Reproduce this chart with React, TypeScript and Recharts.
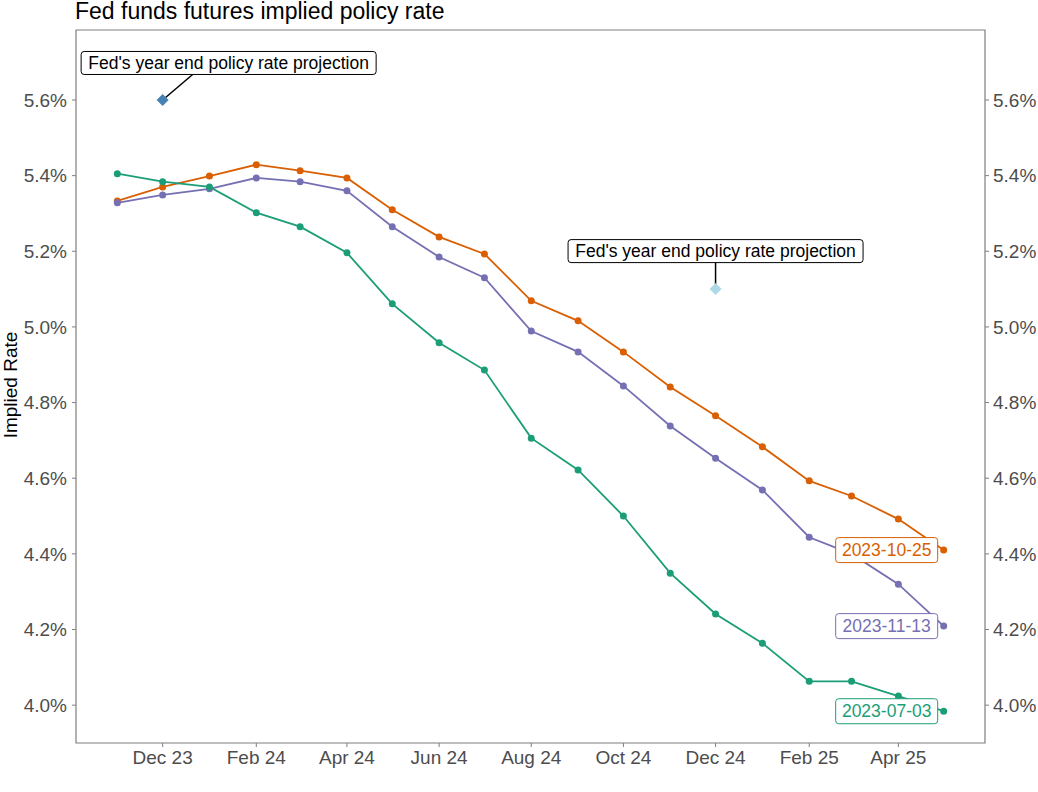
import React from "react";
import {
  LineChart,
  Line,
  XAxis,
  YAxis,
  ReferenceDot,
  ReferenceArea,
} from "recharts";

const MONTHS = [
  "2023-11-01", "2023-12-01", "2024-01-01", "2024-02-01", "2024-03-01",
  "2024-04-01", "2024-05-01", "2024-06-01", "2024-07-01", "2024-08-01",
  "2024-09-01", "2024-10-01", "2024-11-01", "2024-12-01", "2025-01-01",
  "2025-02-01", "2025-03-01", "2025-04-01", "2025-05-01",
];

const RATE_2023_10_25 = [
  5.333, 5.37, 5.399, 5.429, 5.413, 5.394, 5.31, 5.238, 5.193, 5.069,
  5.016, 4.934, 4.841, 4.765, 4.683, 4.593, 4.553, 4.492, 4.41,
];
const RATE_2023_11_13 = [
  5.328, 5.349, 5.365, 5.394, 5.384, 5.36, 5.265, 5.185, 5.13, 4.989,
  4.934, 4.844, 4.738, 4.653, 4.569, 4.444, 4.4, 4.32, 4.209,
];
const RATE_2023_07_03 = [
  5.405, 5.384, 5.37, 5.302, 5.265, 5.196, 5.061, 4.958, 4.886, 4.706,
  4.622, 4.5, 4.349, 4.241, 4.164, 4.063, 4.063, 4.024, 3.984,
];

const SERIES = [
  { key: "d1025", name: "2023-10-25", color: "#D95F02", values: RATE_2023_10_25 },
  { key: "d1113", name: "2023-11-13", color: "#7570B3", values: RATE_2023_11_13 },
  { key: "d0703", name: "2023-07-03", color: "#1B9E77", values: RATE_2023_07_03 },
];

const X_TICKS = [
  "2023-12-01", "2024-02-01", "2024-04-01", "2024-06-01", "2024-08-01",
  "2024-10-01", "2024-12-01", "2025-02-01", "2025-04-01",
];
const Y_TICKS = [4.0, 4.2, 4.4, 4.6, 4.8, 5.0, 5.2, 5.4, 5.6];

const PROJECTIONS = [
  { date: "2023-12-01", rate: 5.6, color: "#4682B4", dx: 66, dy: -37 },
  { date: "2024-12-01", rate: 5.1, color: "#ADD8E6", dx: 0, dy: -38 },
];
const PROJECTION_LABEL = "Fed's year end policy rate projection";

const MONTH_NAMES = ["Jan", "Feb", "Mar", "Apr", "May", "Jun", "Jul", "Aug", "Sep", "Oct", "Nov", "Dec"];

function toTs(s: string): number {
  return new Date(s + "T00:00:00Z").getTime();
}

function fmtMonth(ts: number): string {
  const d = new Date(ts);
  return `${MONTH_NAMES[d.getUTCMonth()]} ${String(d.getUTCFullYear()).slice(2)}`;
}

const data = MONTHS.map((m, i) => {
  const row: Record<string, number> = { t: toTs(m) };
  for (const s of SERIES) row[s.key] = s.values[i];
  return row;
});

const tMin = toTs(MONTHS[0]);
const tMax = toTs(MONTHS[MONTHS.length - 1]);
const pad = (tMax - tMin) * 0.05;
const X_DOMAIN = [tMin - pad, tMax + pad];
const Y_DOMAIN = [3.9, 5.785];

const FONT = "'Liberation Sans', Arial, sans-serif";
const TICK_STYLE = { fill: "#4D4D4D", fontSize: 19, fontFamily: FONT };

function EndLabel(props: any, color: string, text: string) {
  const { x, y, index } = props;
  if (index !== MONTHS.length - 1) return null;
  const w = 102;
  const h = 25;
  return (
    <g>
      <rect x={x - 6 - w} y={y - h / 2} width={w} height={h} rx={3} fill="#fff" stroke={color} strokeWidth={1} />
      <text x={x - 6 - w / 2} y={y + 6} textAnchor="middle" fill={color} fontSize={17.5} fontFamily={FONT}>
        {text}
      </text>
    </g>
  );
}

function ProjectionShape(props: any, p: { color: string; dx: number; dy: number }) {
  const { cx, cy } = props;
  const bw = 295;
  const bh = 23;
  const bx = cx + p.dx;
  const by = cy + p.dy;
  const s = 6;
  return (
    <g>
      <line x1={cx} y1={cy} x2={bx + (p.dx ? 30 - p.dx : 0)} y2={by + bh / 2} stroke="#000" strokeWidth={1.5} />
      <polygon
        points={`${cx},${cy - s} ${cx + s},${cy} ${cx},${cy + s} ${cx - s},${cy}`}
        fill={p.color}
      />
      <rect x={bx - bw / 2} y={by - bh / 2} width={bw} height={bh} rx={3} fill="#fff" stroke="#000" strokeWidth={1} />
      <text x={bx} y={by + 6} textAnchor="middle" fill="#000" fontSize={17.5} fontFamily={FONT}>
        {PROJECTION_LABEL}
      </text>
    </g>
  );
}

export default function App() {
  return (
    <div style={{ position: "absolute", left: 0, top: 0, width: 1038, height: 792, background: "#fff", fontFamily: FONT }}>
      <div style={{ position: "absolute", left: 75, top: 0, fontSize: 23, lineHeight: "23px", color: "#000", whiteSpace: "nowrap" }}>
        Fed funds futures implied policy rate
      </div>
      <div
        style={{
          position: "absolute",
          left: 11,
          top: 385,
          fontSize: 19,
          color: "#000",
          whiteSpace: "nowrap",
          transform: "translate(-50%, -50%) rotate(-90deg)",
        }}
      >
        Implied Rate
      </div>
      <div style={{ position: "absolute", left: 0, top: 0 }}>
        <LineChart width={1038} height={792} data={data} margin={{ top: 30, right: 0, bottom: 0, left: 0 }}>
          <XAxis
            dataKey="t"
            type="number"
            domain={X_DOMAIN}
            ticks={X_TICKS.map(toTs)}
            tickFormatter={fmtMonth}
            allowDataOverflow
            height={49}
            axisLine={false}
            tickLine={{ stroke: "#7f7f7f" }}
            tickSize={4}
            tickMargin={4}
            tick={TICK_STYLE}
          />
          <YAxis
            yAxisId="left"
            type="number"
            domain={Y_DOMAIN}
            ticks={Y_TICKS}
            allowDataOverflow
            width={76}
            axisLine={false}
            tickLine={{ stroke: "#7f7f7f" }}
            tickSize={4}
            tickMargin={5}
            tickFormatter={(v: number) => `${v.toFixed(1)}%`}
            tick={TICK_STYLE}
          />
          <YAxis
            yAxisId="right"
            orientation="right"
            type="number"
            domain={Y_DOMAIN}
            ticks={Y_TICKS}
            allowDataOverflow
            width={53}
            axisLine={false}
            tickLine={{ stroke: "#7f7f7f" }}
            tickSize={4}
            tickMargin={4}
            tickFormatter={(v: number) => `${v.toFixed(1)}%`}
            tick={TICK_STYLE}
          />
          <ReferenceArea
            yAxisId="left"
            x1={X_DOMAIN[0]}
            x2={X_DOMAIN[1]}
            y1={Y_DOMAIN[0]}
            y2={Y_DOMAIN[1]}
            fill="none"
            stroke="#7f7f7f"
            strokeWidth={1.2}
            ifOverflow="extendDomain"
          />
          {SERIES.map((s) => (
            <Line
              key={s.key}
              yAxisId="left"
              dataKey={s.key}
              name={s.name}
              type="linear"
              stroke={s.color}
              strokeWidth={1.8}
              dot={{ r: 3.5, fill: s.color, stroke: s.color, strokeWidth: 0 }}
              activeDot={false}
              isAnimationActive={false}
              label={(props: any) => EndLabel(props, s.color, s.name)}
            />
          ))}
          {PROJECTIONS.map((p) => (
            <ReferenceDot
              key={p.date}
              yAxisId="left"
              x={toTs(p.date)}
              y={p.rate}
              r={6}
              shape={(props: any) => ProjectionShape(props, p)}
            />
          ))}
        </LineChart>
      </div>
    </div>
  );
}
